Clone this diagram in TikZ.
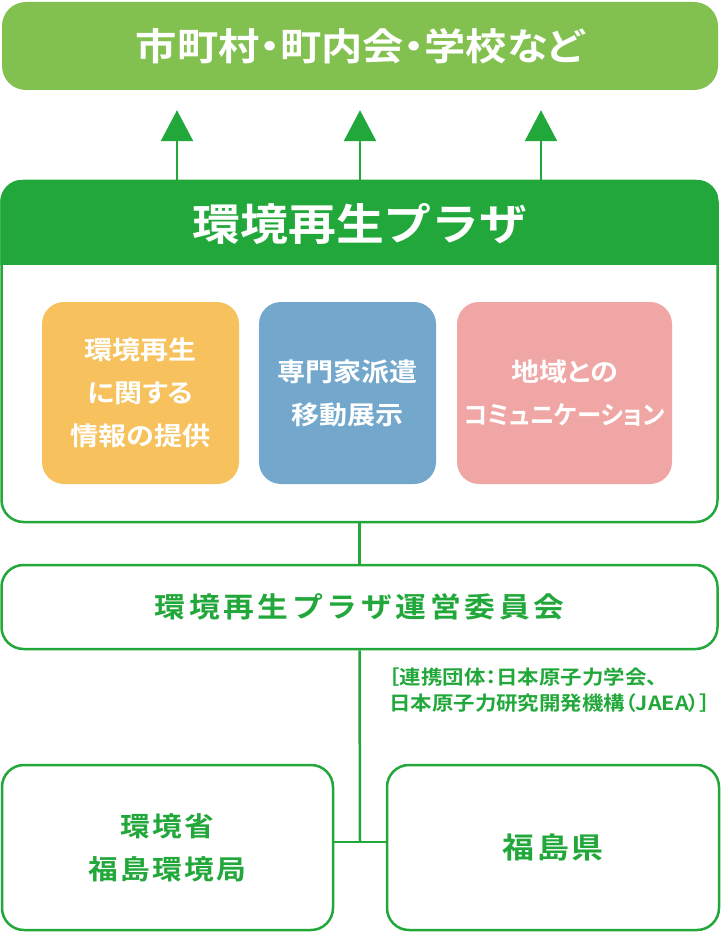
\documentclass[tikz,border=0pt]{standalone}
\usepackage{fontspec}
\usetikzlibrary{arrows.meta}
\newfontfamily\jp{Noto Sans CJK JP Bold}[FakeStretch=1.1]
\newfontfamily\jpp{Noto Sans CJK JP Bold}[FakeStretch=1.1,RawFeature=+palt]
\definecolor{dg}{HTML}{22A83A}
\definecolor{lg}{HTML}{82C150}
\definecolor{orangebox}{HTML}{F7C25D}
\definecolor{bluebox}{HTML}{73A8CC}
\definecolor{pinkbox}{HTML}{F0A6A5}
\begin{document}
\begin{tikzpicture}[x=1pt,y=-1pt,
  frame/.style={draw=dg, line width=2.5pt, fill=white, rounded corners=22pt, text=dg},
  topbox/.style={fill=lg, rounded corners=24pt, minimum width=716pt, minimum height=88pt, text=white, font=\jpp\fontsize{37.5}{40}\selectfont},
  inner/.style={rounded corners=22pt, minimum height=182pt, inner sep=0pt, text=white, align=center, font=\jpp\fontsize{25.5}{43}\selectfont},
  uparrow/.style={draw=dg, line width=2.5pt, -{Triangle[width=32pt,length=31pt]}, dg, shorten >=20pt},
  link/.style={draw=dg, line width=2.5pt}
]
\useasboundingbox (0,0) rectangle (720,936);
% top
\node[topbox] (top) at (360,46) {市町村・町内会・学校など};
% plaza frame
\node[frame, minimum width=716pt, minimum height=341pt] (plaza) at (359.5,351.5) {};
\begin{scope}
  \clip[rounded corners=22pt] (plaza.north west) rectangle (plaza.south east);
  \fill[dg] (plaza.north west) rectangle (plaza.east |- 0,265);
\end{scope}
\node[text=white, font=\jp\fontsize{43.5}{48}\selectfont] (title) at (360,224) {環境再生プラザ};
% inner boxes
\node[inner, fill=orangebox, minimum width=197pt] (info) at (140.5,393) {環境再生\\に関する\\情報の提供};
\node[inner, fill=bluebox, minimum width=177pt] (expert) at (347.5,393) {専門家派遣\\移動展示};
\node[inner, fill=pinkbox, minimum width=215pt] (comm) at (564.5,393) {地域との\\\scalebox{0.87}[1]{コミュニケーション}};
% arrows
\foreach \xx/\nm in {177/a1,360/a2,541/a3}{
  \coordinate (\nm) at (\xx,181);
  \draw[uparrow] (\nm) -- (\nm |- top.south);
}
% committee
\node[frame, minimum width=716pt, minimum height=84pt, font=\jp\fontsize{28}{30}\selectfont\addfontfeature{LetterSpace=13}] (committee) at (359.5,607) {環境再生プラザ運営委員会};
\draw[link] (plaza.south) -- (committee.north);
% annotation
\node[anchor=west, align=left, inner sep=0pt, text=dg, font=\jpp\fontsize{19.5}{26}\selectfont] (note) at (389,690) {［連携団体：日本原子力学会、\\日本原子力研究開発機構（JAEA）］};
% bottom boxes
\node[frame, minimum width=331pt, minimum height=165pt, align=center, font=\jp\fontsize{27}{43}\selectfont\addfontfeature{LetterSpace=8}] (moe) at (167.5,847.5) {環境省\\福島環境局};
\node[frame, minimum width=332pt, minimum height=165pt, font=\jp\fontsize{29}{34}\selectfont\addfontfeature{LetterSpace=8}] (pref) at (553,847.5) {福島県};
\coordinate (j) at (360,842);
\draw[link] (committee.south) -- (j);
\draw[link] (moe.east |- j) -- (pref.west |- j);
\end{tikzpicture}
\end{document}
